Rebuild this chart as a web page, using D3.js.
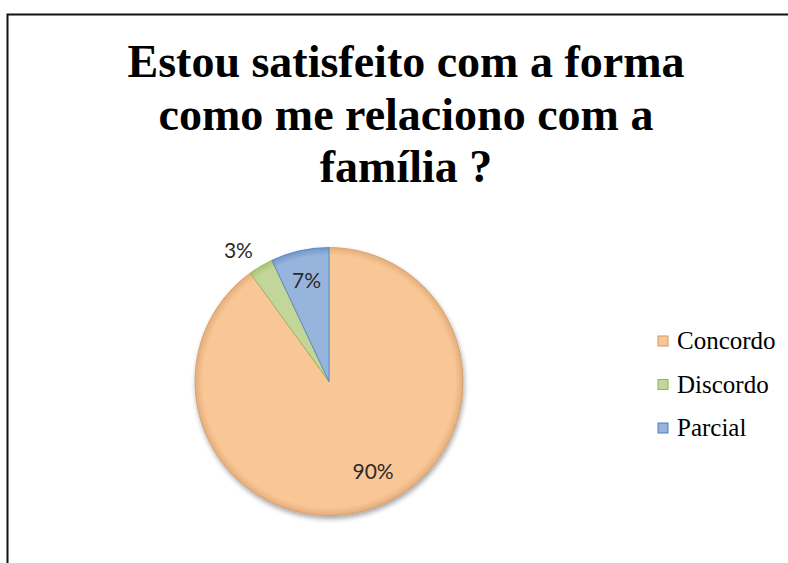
<!DOCTYPE html>
<html>
<head>
<meta charset="utf-8">
<script src="https://cdn.jsdelivr.net/npm/d3@7"></script>
<style>
  html, body { margin: 0; padding: 0; background: #fff; }
  svg { display: block; }
</style>
</head>
<body>
<div id="chart"></div>
<script>
// DATA
const categories = ['Concordo', 'Discordo', 'Parcial'];
const values = [90, 3, 7];
const titleLines = ['Estou satisfeito com a forma', 'como me relaciono com a', 'família ?'];

// colours: fill, edge
const fills = ['#F9C796', '#C3D69A', '#97B5DC'];
const edges = ['#D29A66', '#93B257', '#4F7FBD'];

// VIZ DIMENSIONS + MOUNTING
const width = 788;
const height = 563;
const cx = 329, cy = 381.5, r = 134;

const svg = d3.select('#chart').append('svg')
  .attr('width', width)
  .attr('height', height);

// frame (top + left border only visible)
svg.append('path')
  .attr('d', `M7.5,${height} V14.5 H${width}`)
  .attr('fill', 'none')
  .attr('stroke', '#111')
  .attr('stroke-width', 2);

// TITLE
svg.append('text')
  .attr('x', 406)
  .attr('y', 77)
  .attr('text-anchor', 'middle')
  .style('font-family', '"Liberation Serif", "Times New Roman", serif')
  .style('font-weight', 'bold')
  .style('font-size', '46px')
  .attr('fill', '#000')
  .selectAll('tspan')
  .data(titleLines)
  .enter()
  .append('tspan')
  .attr('x', 406)
  .attr('dy', (d, i) => i === 0 ? 0 : 52.5)
  .text(d => d);

// shading defs
const defs = svg.append('defs');
const shadow = defs.append('filter').attr('id', 'shadow')
  .attr('x', '-20%').attr('y', '-20%').attr('width', '140%').attr('height', '140%');
shadow.append('feGaussianBlur').attr('in', 'SourceAlpha').attr('stdDeviation', 2.5);
shadow.append('feOffset').attr('dx', 1).attr('dy', 3).attr('result', 'ob');
shadow.append('feComponentTransfer').append('feFuncA').attr('type', 'linear').attr('slope', 0.35);
const merge = shadow.append('feMerge');
merge.append('feMergeNode');
merge.append('feMergeNode').attr('in', 'SourceGraphic');

categories.forEach((c, i) => {
  // gradient is used inside the translated pie group, so centre is 0,0
  const g = defs.append('radialGradient')
    .attr('id', 'grad' + i)
    .attr('gradientUnits', 'userSpaceOnUse')
    .attr('cx', 0).attr('cy', 0).attr('r', r);
  g.append('stop').attr('offset', '0%').attr('stop-color', fills[i]);
  g.append('stop').attr('offset', '94%').attr('stop-color', fills[i]);
  g.append('stop').attr('offset', '100%').attr('stop-color', d3.interpolateRgb(fills[i], edges[i])(0.55));
});

// PIE
const pie = d3.pie().sort(null).value(d => d.value);
const arcs = pie(categories.map((c, i) => ({ name: c, value: values[i] })));
const arc = d3.arc().innerRadius(0).outerRadius(r);

const pieG = svg.append('g')
  .attr('transform', `translate(${cx}, ${cy})`);

pieG.append('g')
  .attr('filter', 'url(#shadow)')
  .selectAll('path')
  .data(arcs)
  .enter()
  .append('path')
  .attr('d', arc)
  .attr('fill', (d, i) => `url(#grad${i})`)
  .attr('stroke', (d, i) => edges[i])
  .attr('stroke-opacity', 0.8)
  .attr('stroke-width', 1)
  .attr('stroke-linejoin', 'round');

// LABELS — radius factor and angle nudge per slice (like excel best fit)
const labelRadius = [0.75, 1.19, 0.77];
const labelNudge = [-0.14, -0.07, 0];
pieG.selectAll('text.pct')
  .data(arcs)
  .enter()
  .append('text')
  .attr('class', 'pct')
  .attr('transform', (d, i) => {
    const a = (d.startAngle + d.endAngle) / 2 + labelNudge[i];
    const rr = r * labelRadius[i];
    return `translate(${rr * Math.sin(a)}, ${-rr * Math.cos(a)})`;
  })
  .attr('text-anchor', 'middle')
  .attr('dy', '0.35em')
  .style('font-family', 'Lato, "Open Sans", sans-serif')
  .style('font-size', '21px')
  .attr('fill', '#2a2a2a')
  .text((d, i) => values[i] + '%');

// LEGEND
const legend = svg.append('g')
  .attr('transform', 'translate(658, 341)');

const items = legend.selectAll('g.item')
  .data(categories)
  .enter()
  .append('g')
  .attr('class', 'item')
  .attr('transform', (d, i) => `translate(0, ${i * 43.5})`);

items.append('rect')
  .attr('x', 0).attr('y', -5)
  .attr('width', 10).attr('height', 10)
  .attr('fill', (d, i) => fills[i])
  .attr('stroke', (d, i) => edges[i])
  .attr('stroke-width', 1);

items.append('text')
  .attr('x', 19)
  .attr('y', 0)
  .attr('dy', '0.32em')
  .style('font-family', '"Liberation Serif", "Times New Roman", serif')
  .style('font-size', '25px')
  .attr('fill', '#000')
  .text(d => d);
</script>
</body>
</html>
